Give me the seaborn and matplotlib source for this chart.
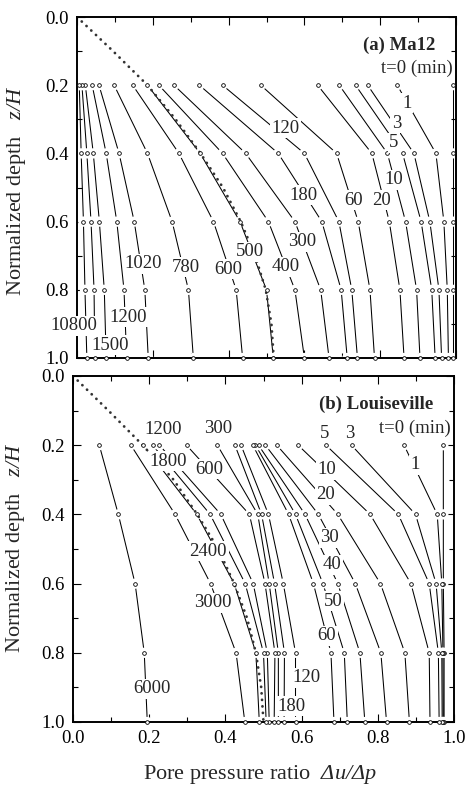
import numpy as np
import pandas as pd
import matplotlib
matplotlib.use("Agg")
import matplotlib.pyplot as plt
import seaborn as sns
from matplotlib.ticker import MultipleLocator, FormatStrFormatter

# ---------------- data ----------------
depths = [0.2, 0.4, 0.6, 0.8, 1.0]

# (a) Ma12 : one value per curve at each depth
a_times = ["0", "1", "3", "5", "10", "20", "60", "120", "180", "300", "400",
           "500", "600", "780", "1020", "1200", "1500", "u", "10800"]
a_u02 = [0.991, 0.845, 0.767, 0.735, 0.692, 0.635, 0.485, 0.384, 0.323, 0.256,
         0.216, 0.186, 0.147, 0.098, 0.058, 0.040, 0.022, 0.013, 0.006]
a_u04 = [0.991, 0.947, 0.889, 0.859, 0.819, 0.778, 0.685, 0.600, 0.531, 0.445,
         0.384, 0.325, 0.269, 0.186, 0.111, 0.077, 0.043, 0.026, 0.011]
a_u06 = [0.991, 0.968, 0.931, 0.908, 0.867, 0.824, 0.742, 0.691, 0.646, 0.575,
         0.505, 0.430, 0.360, 0.251, 0.151, 0.105, 0.059, 0.037, 0.017]
a_u08 = [0.991, 0.977, 0.955, 0.936, 0.896, 0.852, 0.773, 0.725, 0.697, 0.643,
         0.575, 0.500, 0.420, 0.294, 0.179, 0.124, 0.072, 0.045, 0.021]
a_u10 = [0.991, 0.980, 0.962, 0.945, 0.905, 0.863, 0.785, 0.740, 0.713, 0.665,
         0.600, 0.518, 0.437, 0.307, 0.188, 0.131, 0.077, 0.047, 0.026]

a_dot_z = [0.0, 0.1, 0.2, 0.3, 0.4, 0.5, 0.6, 0.7, 0.8, 0.9, 1.0]
a_dot_u = [0.0, 0.095, 0.186, 0.260, 0.326, 0.385, 0.432, 0.470, 0.498, 0.513, 0.519]

a_lab_text = ["1", "3", "5", "10", "20", "60", "120", "180", "300", "400", "500",
              "600", "780", "1020", "1200", "1500", "10800"]
a_lab_u = [0.870, 0.843, 0.836, 0.836, 0.804, 0.729, 0.549, 0.597, 0.593, 0.551,
           0.456, 0.399, 0.288, 0.175, 0.135, 0.087, -0.008]
a_lab_z = [0.253, 0.312, 0.369, 0.478, 0.537, 0.537, 0.326, 0.522, 0.659, 0.732,
           0.688, 0.740, 0.734, 0.724, 0.881, 0.962, 0.905]

# (b) Louiseville
b_times = ["0", "1", "3", "5", "10", "20", "30", "40", "50", "60", "120", "180",
           "300", "600", "1200", "1800", "2400", "3000", "6000"]
b_u02 = [0.972, 0.869, 0.731, 0.664, 0.591, 0.535, 0.505, 0.487, 0.479, 0.472,
         0.441, 0.425, 0.379, 0.298, 0.227, 0.209, 0.185, 0.152, 0.069]
b_u04 = [0.972, 0.956, 0.899, 0.854, 0.780, 0.695, 0.644, 0.609, 0.584, 0.566,
         0.513, 0.495, 0.485, 0.463, 0.388, 0.360, 0.325, 0.268, 0.119]
b_u06 = [0.972, 0.968, 0.953, 0.935, 0.887, 0.807, 0.741, 0.695, 0.656, 0.631,
         0.552, 0.529, 0.515, 0.504, 0.473, 0.452, 0.423, 0.361, 0.163]
b_u08 = [0.974, 0.971, 0.968, 0.959, 0.935, 0.871, 0.808, 0.753, 0.712, 0.677,
         0.584, 0.555, 0.539, 0.530, 0.510, 0.500, 0.480, 0.428, 0.187]
b_u10 = [0.974, 0.972, 0.969, 0.961, 0.937, 0.883, 0.823, 0.766, 0.720, 0.685,
         0.584, 0.554, 0.539, 0.528, 0.515, 0.507, 0.489, 0.451, 0.195]

b_dot_z = [0.0, 0.1, 0.2, 0.3, 0.4, 0.5, 0.6, 0.7, 0.8, 0.9, 1.0]
b_dot_u = [0.0, 0.093, 0.183, 0.264, 0.326, 0.381, 0.423, 0.457, 0.480, 0.494, 0.500]

b_lab_text = ["1", "3", "5", "10", "20", "30", "40", "50", "60", "120", "180",
              "300", "600", "1200", "1800", "2400", "3000", "6000"]
b_lab_u = [0.898, 0.727, 0.660, 0.666, 0.663, 0.673, 0.681, 0.682, 0.666, 0.613,
           0.574, 0.381, 0.358, 0.237, 0.250, 0.355, 0.366, 0.206]
b_lab_z = [0.257, 0.165, 0.165, 0.271, 0.343, 0.468, 0.545, 0.651, 0.750, 0.872,
           0.954, 0.151, 0.269, 0.156, 0.247, 0.507, 0.656, 0.904]

xticks = [0.0, 0.2, 0.4, 0.6, 0.8, 1.0]
yticks = [0.0, 0.2, 0.4, 0.6, 0.8, 1.0]

# ---------------- style ----------------
sns.set_theme(style="ticks")
plt.rcParams.update({
    "font.family": ["Liberation Serif", "DejaVu Serif"],
    "mathtext.fontset": "custom",
    "mathtext.rm": "Liberation Serif:italic",
    "mathtext.it": "Liberation Serif:italic",
    "mathtext.bf": "Liberation Serif:bold",
    "font.size": 13.5,
    "axes.linewidth": 1.4,
    "axes.edgecolor": "black",
    "xtick.color": "black",
    "ytick.color": "black",
})

FS = 13.5
FS_AX = 16


def long_table(times, cols):
    rows = []
    for i, t in enumerate(times):
        for z, col in zip(depths, cols):
            rows.append({"t": t, "z": z, "u": col[i]})
    return pd.DataFrame(rows)


def draw_panel(ax, times, cols, dot_u, dot_z, lab_text, lab_u, lab_z,
               title, bottom_labels):
    df = long_table(times, cols)
    sns.lineplot(data=df, x="u", y="z", units="t", estimator=None, sort=False,
                 color="black", lw=0.75, ax=ax, legend=False, zorder=2)
    # white halo -> gap between line and marker
    sns.scatterplot(data=df, x="u", y="z", s=55, color="white",
                    edgecolor="none", linewidth=0, ax=ax, legend=False,
                    zorder=2.2)
    ddf = pd.DataFrame({"u": dot_u, "z": dot_z})
    sns.lineplot(data=ddf, x="u", y="z", estimator=None, sort=False,
                 color="#333333", lw=2.0, ax=ax, legend=False, zorder=2.4,
                 linestyle=(0, (0.05, 2.3)), dash_capstyle="round")
    sns.scatterplot(data=df, x="u", y="z", s=7, color="white",
                    edgecolor="black", linewidth=0.6, ax=ax, legend=False,
                    zorder=3, clip_on=False)
    for s, u, z in zip(lab_text, lab_u, lab_z):
        ax.text(u, z, s, ha="center", va="center", fontsize=FS, zorder=4,
                clip_on=False,
                bbox=dict(boxstyle="square,pad=0.08", fc="white", ec="none"))
    ax.text(0.945, 0.082, title, ha="right", va="center", fontsize=FS,
            fontweight="bold", zorder=4)
    ax.text(0.992, 0.152, "t=0 (min)", ha="right", va="center", fontsize=FS,
            zorder=4)

    ax.set_xlim(0, 1)
    ax.set_ylim(1.0, 0.0)
    ax.set_xticks(xticks)
    ax.set_yticks(yticks)
    ax.xaxis.set_minor_locator(MultipleLocator(0.1))
    ax.yaxis.set_minor_locator(MultipleLocator(0.1))
    ax.xaxis.set_major_formatter(FormatStrFormatter("%.1f"))
    ax.yaxis.set_major_formatter(FormatStrFormatter("%.1f"))
    ax.tick_params(which="both", direction="in", top=True, right=True,
                   width=0.8, labelsize=FS, pad=6)
    ax.tick_params(which="major", length=5.5)
    ax.tick_params(which="minor", length=3.5)
    if not bottom_labels:
        ax.tick_params(axis="x", labelbottom=False)
    ax.set_xlabel("")
    ax.set_ylabel("Normalized depth   $z/H$", fontsize=FS_AX)
    for sp in ax.spines.values():
        sp.set_linewidth(1.4)
        sp.set_zorder(2.5)


fig = plt.figure(figsize=(4.67, 7.85), dpi=100)
axA = fig.add_axes([77 / 467, 1 - 358 / 785, 379 / 467, 341 / 785])
axB = fig.add_axes([73 / 467, 1 - 722 / 785, 381 / 467, 346 / 785])

draw_panel(axA, a_times, [a_u02, a_u04, a_u06, a_u08, a_u10], a_dot_u, a_dot_z,
           a_lab_text, a_lab_u, a_lab_z, "(a) Ma12", False)
draw_panel(axB, b_times, [b_u02, b_u04, b_u06, b_u08, b_u10], b_dot_u, b_dot_z,
           b_lab_text, b_lab_u, b_lab_z, "(b) Louiseville", True)

axA.yaxis.set_label_coords(-0.13, 0.49)
axB.yaxis.set_label_coords(-0.12, 0.505)

fig.text(260 / 467, 1 - 774 / 785, "Pore pressure ratio  $\\Delta u/\\Delta p$",
         ha="center", va="center", fontsize=FS_AX)

fig.savefig("out.png", dpi=100, facecolor="white")
